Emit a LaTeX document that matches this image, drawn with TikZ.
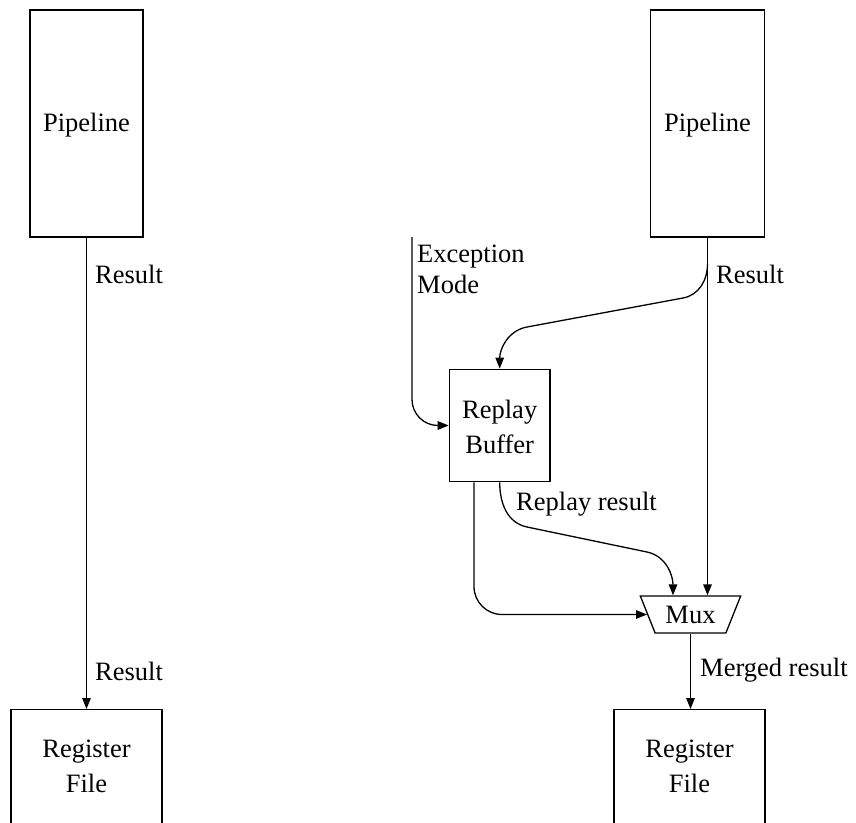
\documentclass[tikz,border=0pt]{standalone}
\usepackage{fontspec}
\setmainfont{Liberation Serif}
\usetikzlibrary{arrows.meta,shapes.geometric}

\tikzset{
  unit/.style={draw, line width=1.3pt, inner sep=0pt},
  boxtext/.style={align=center, inner sep=0pt, font=\fontsize{26.5}{35}\selectfont},
  lbl/.style={anchor=base west, inner sep=0pt, align=left, font=\fontsize{26.5}{31}\selectfont},
  wire/.style={line width=1.3pt, -{Triangle[length=11pt,width=8.5pt]}},
}

\begin{document}
\begin{tikzpicture}[x=1pt, y=-1pt]
\useasboundingbox (0,0) rectangle (856,822);
\clip (0,0) rectangle (856,822);

% ---- plain datapath (left) ----
\node[unit, minimum width=113, minimum height=227] (lp) at (86.5,123.5) {};
\node[boxtext] (lptext) at (86.5,125) {Pipeline};
\node[unit, anchor=north, minimum width=151, minimum height=140] (lrf) at (86.5,709) {};
\node[boxtext] (lrftext) at (86.5,766) {Register\\File};

\draw[wire] (lp.south) -- (lrf.north);
\node[lbl] (lres1) at (95,283) {Result};
\node[lbl] (lres2) at (95,680) {Result};

% ---- datapath with replay buffer (right) ----
\node[unit, minimum width=113.6, minimum height=227] (rp) at (707.5,123.5) {};
\node[boxtext] (rptext) at (707.5,125) {Pipeline};
\node[unit, minimum width=100.7, minimum height=112.4] (rb) at (499.7,425.5) {};
\node[boxtext] (rbtext) at (499.7,427) {Replay\\Buffer};
\node[unit, trapezium, trapezium left angle=120.74, trapezium right angle=120.74,
      trapezium stretches=true, minimum width=101, minimum height=37,
      font=\fontsize{26.5}{31}\selectfont] (mux) at (690.5,614.5) {Mux};
\node[unit, anchor=north, minimum width=151, minimum height=140] (rrf) at (689.5,709) {};
\node[boxtext] (rrftext) at (689.5,766) {Register\\File};

\coordinate (exc) at (412,237);
\coordinate (br) at ([yshift=-26pt]rp.south);
\coordinate (rbout) at ([xshift=-25.7pt]rb.south);

% pipeline result straight into the mux
\draw[wire] (rp.south) -- (rp.south |- mux.north);
% pipeline result branched into the replay buffer
\draw[wire] (br) to[out=-90, in=10.5] (683,298) -- (527,327)
  to[out=190.5, in=90] (rb.north);
% exception mode input
\draw[wire, rounded corners=26pt] (exc) |- (rb.west);
% replay result into the mux
\draw[wire] (rb.south) to[out=-90, in=168.2] (527,527) -- (647,552)
  to[out=-11.8, in=90] ([xshift=-17.5pt]mux.north);
% second buffer output into the mux side
\draw[wire, rounded corners=28pt] (rbout) |- (mux.west);
% merged result to the register file
\draw[wire] (mux.south) -- (mux.south |- rrf.north);

\node[lbl] (exclbl) at (417,293) {Exception\\Mode};
\node[lbl] (rres) at (716,283) {Result};
\node[lbl] (replres) at (516,510.7) {Replay result};
\node[lbl] (merged) at (700,676.7) {Merged result};
\end{tikzpicture}
\end{document}
